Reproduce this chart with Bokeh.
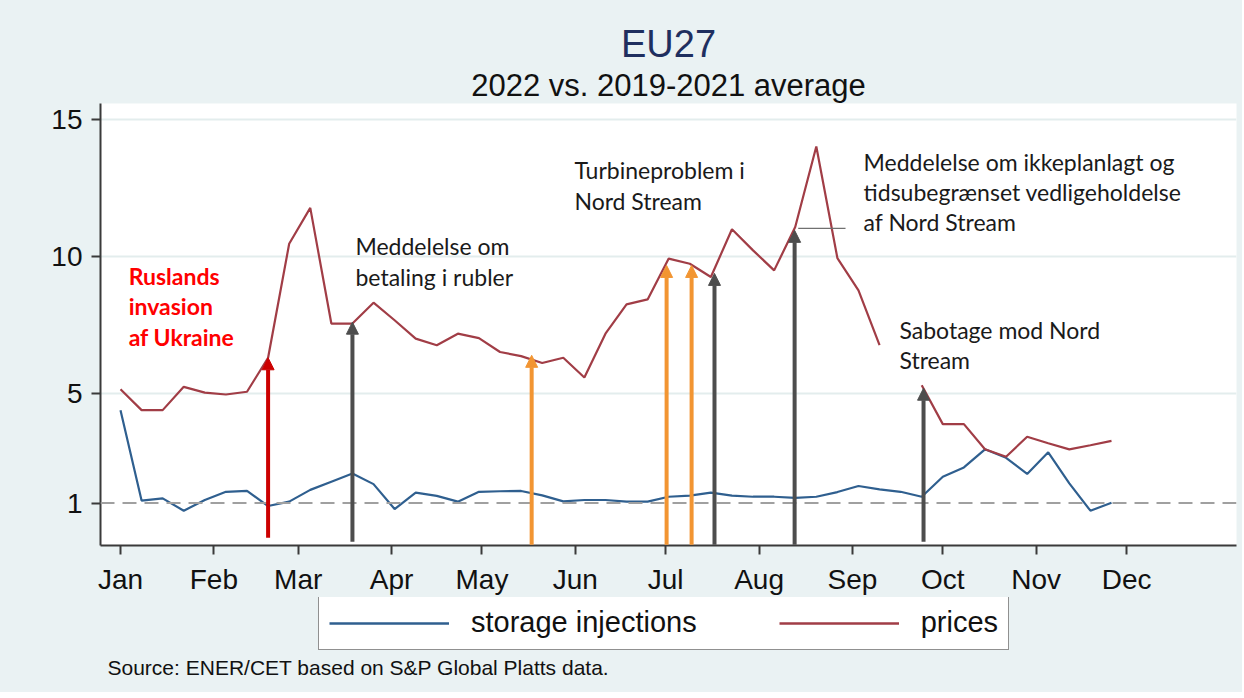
from bokeh.plotting import figure
from bokeh.layouts import column
from bokeh.models import (Range1d, FixedTicker, Span, Label, Arrow, NormalHead,
                          ColumnDataSource, Legend, LegendItem, Title)
from bokeh.embed import file_html
from bokeh.resources import INLINE

nan = float("nan")

# ---- data -------------------------------------------------------------
week_day = [0, 7, 14, 21, 28, 35, 42, 49, 56, 63, 70, 77, 84, 91, 98, 105,
            112, 119, 126, 133, 140, 147, 154, 161, 168, 175, 182, 189, 196,
            203, 210, 217, 224, 231, 238, 245, 252, 259, 266, 273, 280, 287,
            294, 301, 308, 315, 322, 329]

storage = [4.39, 1.09, 1.17, 0.72, 1.11, 1.41, 1.44, 0.89, 1.05, 1.48, 1.78,
           2.08, 1.69, 0.78, 1.38, 1.26, 1.05, 1.41, 1.43, 1.44, 1.28, 1.06,
           1.11, 1.11, 1.05, 1.05, 1.23, 1.27, 1.38, 1.27, 1.23, 1.23, 1.19,
           1.23, 1.40, 1.62, 1.50, 1.41, 1.23, 1.96, 2.30, 2.96, 2.65, 2.06,
           2.85, 1.72, 0.72, 1.01]

prices = [5.15, 4.39, 4.39, 5.24, 5.03, 4.96, 5.06, 6.30, 10.46, 11.77, 7.55,
          7.55, 8.31, 7.67, 7.00, 6.76, 7.18, 7.02, 6.51, 6.36, 6.11, 6.30,
          5.58, 7.18, 8.25, 8.43, 9.92, 9.73, 9.25, 10.99, 10.22, 9.49, 11.07,
          14.01, 9.94, 8.76, 6.76, nan, 5.30, 3.88, 3.88, 2.96, 2.69, 3.42,
          3.18, 2.96, 3.11, 3.27]

month_day = [0, 31, 59, 90, 120, 151, 181, 212, 243, 273, 304, 334]
month_labels = ["Jan", "Feb", "Mar", "Apr", "May", "Jun", "Jul", "Aug",
                "Sep", "Oct", "Nov", "Dec"]
y_ticks = [1, 5, 10, 15]

event_day = [49, 77, 136.5, 181.3, 189.6, 197.2, 223.8, 266.6]
event_top = [6.30, 7.60, 6.39, 9.67, 9.67, 9.38, 10.95, 5.19]
event_bottom = [-0.27, -0.41, -0.52, -0.52, -0.52, -0.52, -0.52, -0.41]
event_kind = ["red", "gray", "orange", "orange", "orange", "gray", "gray", "gray"]

callout_day = [225.0, 240.7]
callout_val = [11.02, 11.02]

notes = [
    ("Ruslands\ninvasion\naf Ukraine", 2.7, 9.79, "red"),
    ("Meddelelse om\nbetaling i rubler", 78.0, 10.88, "dark"),
    ("Turbineproblem i\nNord Stream", 150.7, 13.65, "dark"),
    ("Meddelelse om ikkeplanlagt og\ntidsubegrænset vedligeholdelse\naf Nord Stream", 246.7, 13.97, "dark"),
    ("Sabotage mod Nord\nStream", 258.6, 7.82, "dark"),
]

series_labels = ["storage injections", "prices"]
title_text = "EU27"
subtitle_text = "2022 vs. 2019-2021 average"
source_text = "Source: ENER/CET based on S&P Global Platts data."

# ---- styling ------------------------------------------------------------
BG = "#eaf2f3"
BLUE = "#2f5f8f"
MAROON = "#a13d46"
KIND_COLOR = {"red": "#cc0000", "gray": "#4d4d4d", "orange": "#f29532"}
TICK_FONT = "Liberation Sans"
NOTE_FONT = "Lato"
W = 1242
H1 = 597
H2 = 95

p = figure(width=W, height=H1, output_backend="svg", toolbar_location=None,
           x_range=Range1d(-6.64, 370.5), y_range=Range1d(-0.55, 15.58),
           min_border_left=100, min_border_right=6, min_border_top=103,
           min_border_bottom=H1 - 546)
p.background_fill_color = "white"
p.border_fill_color = BG
p.outline_line_color = None

# axes
for ax in (p.xaxis[0], p.yaxis[0]):
    ax.axis_line_color = "#3a3a3a"
    ax.axis_line_width = 2
    ax.major_tick_line_color = "#3a3a3a"
    ax.major_tick_line_width = 2
    ax.major_tick_out = 9
    ax.major_tick_in = 0
    ax.minor_tick_line_color = None
    ax.major_label_text_font = TICK_FONT
    ax.major_label_text_font_size = "28px"
    ax.major_label_text_color = "#111111"
    ax.major_label_standoff = 9

p.xaxis.ticker = FixedTicker(ticks=month_day)
p.xaxis.major_label_overrides = {d: m for d, m in zip(month_day, month_labels)}
p.yaxis.ticker = FixedTicker(ticks=y_ticks)

p.xgrid.grid_line_color = None
p.ygrid.ticker = FixedTicker(ticks=[t for t in y_ticks if t != 1])
p.ygrid.grid_line_color = "#e3eded"
p.ygrid.grid_line_width = 2

# reference line at 1
p.add_layout(Span(location=1, dimension="width", line_color="#a0a0a0",
                  line_width=2, line_dash="14 8"))

# series
src = ColumnDataSource(dict(day=week_day, storage=storage, prices=prices))
p.line("day", "storage", source=src, line_color=BLUE, line_width=2.2)
p.line("day", "prices", source=src, line_color=MAROON, line_width=2.2)

# event arrows
for kind in ("orange", "gray", "red"):
    idx = [i for i, k in enumerate(event_kind) if k == kind]
    asrc = ColumnDataSource(dict(x=[event_day[i] for i in idx],
                                 y0=[event_bottom[i] for i in idx],
                                 y1=[event_top[i] for i in idx]))
    c = KIND_COLOR[kind]
    p.add_layout(Arrow(x_start="x", y_start="y0", x_end="x", y_end="y1",
                       source=asrc, line_color=c, line_width=4,
                       end=NormalHead(size=12, fill_color=c, line_color=c,
                                      line_width=1)))

# callout line
p.line(callout_day, callout_val, line_color="#707070", line_width=1.2)

# annotation texts
for text, x, y, kind in notes:
    red = kind == "red"
    p.add_layout(Label(x=x, y=y, text=text, text_align="left",
                       text_baseline="top",
                       text_font=NOTE_FONT, text_font_size="23px",
                       text_font_style="bold" if red else "normal",
                       text_color="#ff0000" if red else "#1a1a1a",
                       text_line_height=1.08))

# titles above (first added sits closest to the frame)
p.add_layout(Title(text=subtitle_text, align="center", text_font=TICK_FONT,
                   text_font_size="31px", text_font_style="normal",
                   text_color="#111111", standoff=2, offset=0), "above")
p.add_layout(Title(text=title_text, align="center", text_font=TICK_FONT,
                   text_font_size="38px", text_font_style="normal",
                   text_color="#1f2f5f", standoff=0, offset=0), "above")

# ---- bottom strip: legend + source -------------------------------------
# (its frame is aligned with the main frame; the series drawn here sit
#  outside its view and only feed the legend)
q = figure(width=W, height=H2, output_backend="svg", toolbar_location=None,
           x_range=Range1d(1000, 1001), y_range=Range1d(1000, 1001),
           x_axis_type=None, y_axis_type=None,
           min_border_left=100, min_border_right=6, min_border_top=0,
           min_border_bottom=0)
q.background_fill_color = BG
q.border_fill_color = BG
q.outline_line_color = None
q.xgrid.grid_line_color = None
q.ygrid.grid_line_color = None

k_store = q.line("day", "storage", source=src, line_color=BLUE, line_width=2.4)
k_price = q.line("day", "prices", source=src, line_color=MAROON, line_width=2.4)

legend = Legend(items=[LegendItem(label=series_labels[0], renderers=[k_store]),
                       LegendItem(label=series_labels[1], renderers=[k_price])],
                orientation="horizontal", location=(218, 42),
                border_line_color="#222222", border_line_width=1.6,
                background_fill_color="white", background_fill_alpha=1,
                label_text_font=TICK_FONT, label_text_font_size="29px",
                label_text_color="#111111", glyph_width=120, glyph_height=30,
                label_standoff=22, spacing=82, padding=10, margin=0)
q.add_layout(legend, "center")

q.add_layout(Label(x=7, y=25, x_units="screen", y_units="screen",
                   text=source_text, text_align="left", text_baseline="middle",
                   text_font=TICK_FONT, text_font_size="21px",
                   text_color="#111111"))

layout = column(p, q, spacing=0, styles={"background-color": BG})
open("out.html", "w").write(file_html(layout, INLINE))
